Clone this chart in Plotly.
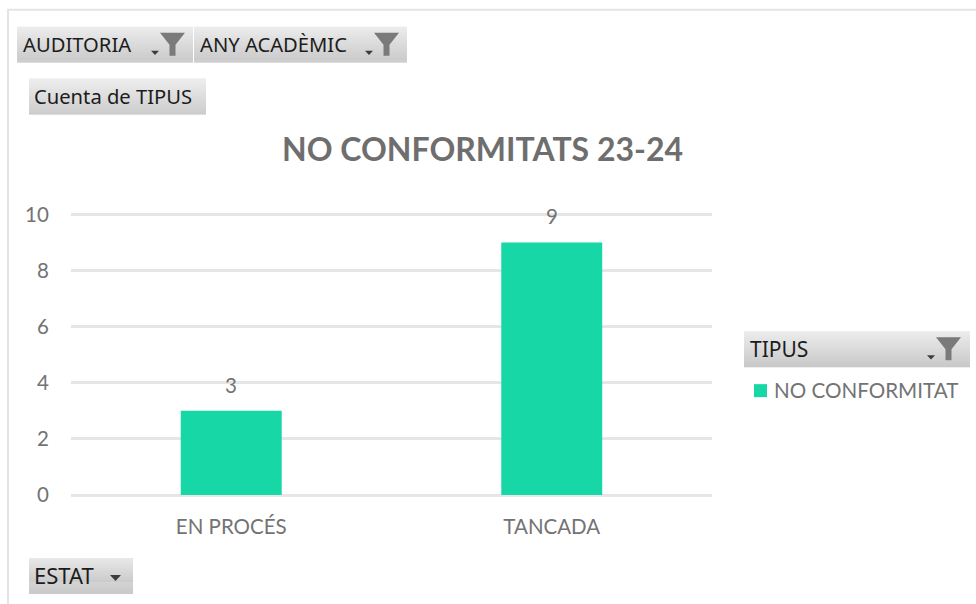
import plotly.graph_objects as go

categories = ["EN PROCÉS", "TANCADA"]
values = [3, 9]
series_name = "NO CONFORMITAT"
title_text = "NO CONFORMITATS 23-24"
y_ticks = [0, 2, 4, 6, 8, 10]
y_top = 10.05

W, H = 976, 604
L, R, B = 71, 712, 495
T = B - 281 * y_top / 10
TEAL = "#17d7a7"
GREY = "#737373"
BTN_FONT = "Noto Sans"
CHART_FONT = "Lato"

def px(x):
    return (x - L) / (R - L)

def py(y):
    return (B - y) / (B - T)

shapes, annotations = [], []

# outer frame
for x0, y0, x1, y1 in [(7, 9, 9, 604), (7, 8, 976, 10)]:
    shapes.append(dict(type="rect", xref="paper", yref="paper", layer="below",
                       x0=px(x0), x1=px(x1), y0=py(y0), y1=py(y1),
                       fillcolor="#e4e4e4", line_width=0))

def lerp(a, b, t):
    return round(a + (b - a) * t)

def button(x0, y0, x1, y1, label, size=20.2, arrow=None, funnel=None, tx=None, dy=-1):
    n = y1 - y0
    for i in range(n):
        t = i / max(n - 1, 1)
        v = lerp(232, 188, t)
        shapes.append(dict(type="rect", xref="paper", yref="paper",
                           x0=px(x0), x1=px(x1), y0=py(y0 + i), y1=py(y0 + i + 1),
                           fillcolor=f"rgb({v},{v},{v})", line_width=0))
    annotations.append(dict(xref="paper", yref="paper", x=px(tx), y=py((y0 + y1) / 2 + dy),
                            text=label, showarrow=False, xanchor="left", yanchor="middle",
                            font=dict(family=BTN_FONT, size=size, color="#1c1c1c")))
    if arrow:
        ax, ay, w = arrow
        pts = [(ax, ay), (ax + w, ay), (ax + w / 2, ay + w * 0.55)]
        path = "M " + " L ".join(f"{px(a)},{py(b)}" for a, b in pts) + " Z"
        shapes.append(dict(type="path", xref="paper", yref="paper", path=path,
                           fillcolor="#3c3c3c", line_width=0))
    if funnel:
        fx, fy = funnel
        pts = [(fx, fy), (fx + 25, fy), (fx + 15.5, fy + 12), (fx + 15.5, fy + 23),
               (fx + 9.5, fy + 23), (fx + 9.5, fy + 12)]
        path = "M " + " L ".join(f"{px(a)},{py(b)}" for a, b in pts) + " Z"
        shapes.append(dict(type="path", xref="paper", yref="paper", path=path,
                           fillcolor="#7a7a7a", line_width=0))

button(17, 26, 193, 62, "AUDITORIA", arrow=(151, 50, 8), funnel=(160, 32), tx=21)
button(194, 26, 407, 62, "ANY ACADÈMIC", arrow=(365, 50, 8), funnel=(374, 32), tx=198)
button(29, 78, 206, 114, "Cuenta de TIPUS", tx=32)
button(744, 331, 970, 367, "TIPUS", size=21, arrow=(927, 355, 8), funnel=(936, 337), tx=748, dy=0)
button(29, 558, 133, 594, "ESTAT", size=22, arrow=(110, 575, 11), tx=32)

# title
annotations.append(dict(xref="paper", yref="paper", x=px(482), y=py(148), text=f"<b>{title_text}</b>",
                        showarrow=False, xanchor="center", yanchor="middle",
                        font=dict(family=CHART_FONT, size=32, color="#6e6e6e")))

# data labels
for c, v in zip(categories, values):
    annotations.append(dict(x=c, y=v, xref="x", yref="y", text=str(v), showarrow=False,
                            yshift=26, yanchor="middle",
                            font=dict(family=CHART_FONT, size=20.5, color=GREY)))

# legend entry
shapes.append(dict(type="rect", xref="paper", yref="paper",
                   x0=px(754), x1=px(767), y0=py(384), y1=py(397),
                   fillcolor=TEAL, line_width=0))
annotations.append(dict(xref="paper", yref="paper", x=px(772), y=py(389.5), text=series_name,
                        showarrow=False, xanchor="left", yanchor="middle",
                        font=dict(family=CHART_FONT, size=20.6, color=GREY)))

fig = go.Figure(go.Bar(x=categories, y=values, name=series_name, marker_color=TEAL,
                       marker_line_width=0, showlegend=False, hoverinfo="x+y"))

fig.update_layout(
    width=W, height=H, autosize=False,
    margin=dict(l=L, r=W - R, t=T, b=H - B, pad=0),
    paper_bgcolor="white", plot_bgcolor="white",
    bargap=0.685,
    shapes=shapes, annotations=annotations,
    showlegend=False,
)
fig.update_xaxes(showgrid=False, showline=False, zeroline=False,
                 tickfont=dict(family=CHART_FONT, size=20.5, color=GREY),
                 ticks="outside", ticklen=13, tickcolor="rgba(0,0,0,0)")
fig.update_yaxes(range=[0, y_top], tickvals=y_ticks, showgrid=True, gridcolor="#e6e6e6", gridwidth=2.5,
                 zeroline=True, zerolinecolor="#e6e6e6", zerolinewidth=2.5, showline=False,
                 ticks="outside", ticklen=17, tickcolor="rgba(0,0,0,0)",
                 tickfont=dict(family=CHART_FONT, size=20.5, color=GREY))

fig.write_html("out.html", config={"displayModeBar": False},
               post_script="document.body.style.margin='0';document.body.style.overflow='hidden';")
